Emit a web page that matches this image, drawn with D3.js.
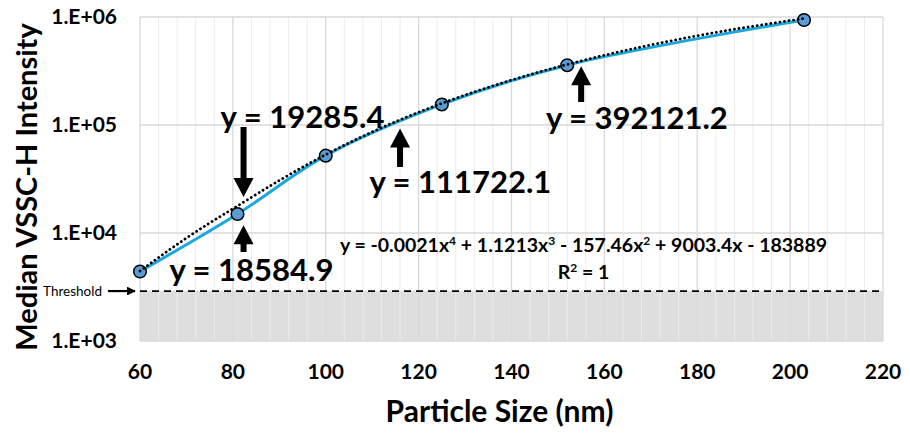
<!DOCTYPE html>
<meta charset="utf-8">
<style>
body { margin: 0; background: #fff; }
text { font-family: Lato, "Open Sans", sans-serif; font-weight: bold; fill: #000; }
</style>
<svg width="910" height="433"></svg>
<script src="https://cdn.jsdelivr.net/npm/d3@7"></script>
<script>

// measured points
var sizes = [60, 81, 100, 125, 152, 203];
var intensity = [4400, 15000, 52000, 155000, 358000, 938000];

// polynomial trendline, values
var trendSizes = [60, 70, 82, 90, 100, 116, 125, 140, 155, 180, 203];
var trendValues = [4443, 8980, 18932, 30638, 53151, 111722, 158567, 260482, 392121, 669945, 969004];

var xTicks = [60, 80, 100, 120, 140, 160, 180, 200, 220];
var yTicks = [1e3, 1e4, 1e5, 1e6];
var yTickLabels = ["1.E+03", "1.E+04", "1.E+05", "1.E+06"];

var threshold = 2900;

// callouts: label text with its anchor (data space)
var labels = [
  {text: "y = 19285.4", x: 95, y: 118000},
  {text: "y = 18584.9", x: 84, y: 4550},
  {text: "y = 111722.1", x: 129, y: 29700},
  {text: "y = 392121.2", x: 167, y: 116000}
];
// arrows: x, tail value, tip value
var arrows = [
  {x: 82.3, from: 95700, to: 21500},
  {x: 82.3, from: 6670, to: 11800},
  {x: 116, from: 40800, to: 93000},
  {x: 155, from: 163000, to: 350000}
];

var svg = d3.select("svg"),
    margin = {top: 17, right: 27, bottom: 92, left: 140},
    width = svg.attr("width") - margin.left - margin.right,
    height = svg.attr("height") - margin.top - margin.bottom,
    g = svg.append("g").attr("transform", "translate(" + margin.left + "," + margin.top + ")");

var x = d3.scaleLinear().domain([60, 220]).range([0, width]),
    y = d3.scaleLog().domain([1e3, 1e6]).range([height, 0]);

// shaded region below threshold
g.append("rect")
    .attr("x", 0)
    .attr("y", y(threshold))
    .attr("width", width)
    .attr("height", height - y(threshold))
    .attr("fill", "#dedede");

// minor vertical grid every 4 nm
g.append("g").selectAll("line")
    .data(d3.range(60, 221, 4).filter(function(d) { return (d - 60) % 20 != 0; }))
  .enter().append("line")
    .attr("x1", function(d) { return x(d); })
    .attr("x2", function(d) { return x(d); })
    .attr("y1", 0).attr("y2", height)
    .attr("stroke", "#ececec").attr("stroke-width", 1);

g.append("g").selectAll("line")
    .data(xTicks)
  .enter().append("line")
    .attr("x1", function(d) { return x(d); })
    .attr("x2", function(d) { return x(d); })
    .attr("y1", 0).attr("y2", height)
    .attr("stroke", "#d9d9d9").attr("stroke-width", 1.3);

g.append("g").selectAll("line")
    .data(yTicks)
  .enter().append("line")
    .attr("x1", 0).attr("x2", width)
    .attr("y1", function(d) { return y(d); })
    .attr("y2", function(d) { return y(d); })
    .attr("stroke", "#d9d9d9").attr("stroke-width", 1.3);

// tick labels
g.append("g").selectAll("text")
    .data(yTicks)
  .enter().append("text")
    .attr("x", -23)
    .attr("y", function(d) { return y(d); })
    .attr("dy", "0.35em")
    .attr("text-anchor", "end")
    .style("font-size", "21px")
    .text(function(d, i) { return yTickLabels[i]; });

g.append("g").selectAll("text")
    .data(xTicks)
  .enter().append("text")
    .attr("x", function(d) { return x(d); })
    .attr("y", height + 31)
    .attr("dy", "0.35em")
    .attr("text-anchor", "middle")
    .style("font-size", "21px")
    .text(function(d) { return d; });

// axis titles
svg.append("text")
    .attr("x", margin.left + x(140) - 12)
    .attr("y", 411)
    .attr("dy", "0.35em")
    .attr("text-anchor", "middle")
    .style("font-size", "30px")
    .text("Particle Size (nm)");

svg.append("text")
    .attr("transform", "translate(27,187) rotate(-90)")
    .attr("dy", "0.35em")
    .attr("text-anchor", "middle")
    .style("font-size", "29px")
    .text("Median VSSC-H Intensity");

// threshold line
g.append("line")
    .attr("x1", 0).attr("x2", width)
    .attr("y1", y(threshold)).attr("y2", y(threshold))
    .attr("stroke", "#000").attr("stroke-width", 1.8)
    .attr("stroke-dasharray", "7,5");

svg.append("text")
    .attr("x", 102)
    .attr("y", margin.top + y(threshold))
    .attr("dy", "0.35em")
    .attr("text-anchor", "end")
    .style("font-size", "13.5px")
    .style("font-weight", "normal")
    .text("Threshold");

svg.append("defs").append("marker")
    .attr("id", "head")
    .attr("viewBox", "0 0 10 10")
    .attr("refX", 9).attr("refY", 5)
    .attr("markerWidth", 4).attr("markerHeight", 4)
    .attr("orient", "auto")
  .append("path")
    .attr("d", "M0,0L10,5L0,10z")
    .attr("fill", "#000");

svg.append("line")
    .attr("x1", 108).attr("x2", 135)
    .attr("y1", margin.top + y(threshold)).attr("y2", margin.top + y(threshold))
    .attr("stroke", "#000").attr("stroke-width", 2.2)
    .attr("marker-end", "url(#head)");

// measured series, smoothed
var line = d3.line()
    .curve(d3.curveCatmullRom.alpha(0.5))
    .x(function(d, i) { return x(sizes[i]); })
    .y(function(d) { return y(d); });

g.append("path")
    .attr("d", line(intensity))
    .attr("fill", "none")
    .attr("stroke", "#1aa7e0")
    .attr("stroke-width", 3);

g.append("g").selectAll("circle")
    .data(intensity)
  .enter().append("circle")
    .attr("cx", function(d, i) { return x(sizes[i]); })
    .attr("cy", function(d) { return y(d); })
    .attr("r", 6.3)
    .attr("fill", "#5b9bd5")
    .attr("stroke", "#000")
    .attr("stroke-width", 1.5);

// trendline
var trend = d3.line()
    .curve(d3.curveMonotoneX)
    .x(function(d, i) { return x(trendSizes[i]); })
    .y(function(d) { return y(d); });

g.append("path")
    .attr("d", trend(trendValues))
    .attr("fill", "none")
    .attr("stroke", "#000")
    .attr("stroke-width", 2.8)
    .attr("stroke-linecap", "round")
    .attr("stroke-dasharray", "0.1,4.5");

// equation
g.append("text")
    .attr("x", x(155.5))
    .attr("y", y(7700))
    .attr("dy", "0.35em")
    .attr("text-anchor", "middle")
    .style("font-size", "19.5px")
    .html("y = -0.0021x<tspan dy='-7' font-size='12'>4</tspan><tspan dy='7'> + 1.1213x</tspan><tspan dy='-7' font-size='12'>3</tspan><tspan dy='7'> - 157.46x</tspan><tspan dy='-7' font-size='12'>2</tspan><tspan dy='7'> + 9003.4x - 183889</tspan>");

g.append("text")
    .attr("x", x(155.5))
    .attr("y", y(4300))
    .attr("dy", "0.35em")
    .attr("text-anchor", "middle")
    .style("font-size", "19.5px")
    .html("R<tspan dy='-7' font-size='12'>2</tspan><tspan dy='7'> = 1</tspan>");

// callout labels and arrows
g.append("g").selectAll("text")
    .data(labels)
  .enter().append("text")
    .attr("x", function(d) { return x(d.x); })
    .attr("y", function(d) { return y(d.y); })
    .attr("dy", "0.35em")
    .attr("text-anchor", "middle")
    .style("font-size", "31px")
    .text(function(d) { return d.text; });

function arrowPath(d) {
  var cx = x(d.x), y0 = y(d.from), y1 = y(d.to),
      dir = y1 > y0 ? 1 : -1,
      head = 19, hw = 10, sw = 3,
      yb = y1 - dir * head;
  return "M" + (cx - sw) + "," + y0 + "L" + (cx + sw) + "," + y0 +
    "L" + (cx + sw) + "," + yb + "L" + (cx + hw) + "," + yb +
    "L" + cx + "," + y1 + "L" + (cx - hw) + "," + yb +
    "L" + (cx - sw) + "," + yb + "Z";
}

g.append("g").selectAll("path")
    .data(arrows)
  .enter().append("path")
    .attr("d", arrowPath)
    .attr("fill", "#000");

</script>
